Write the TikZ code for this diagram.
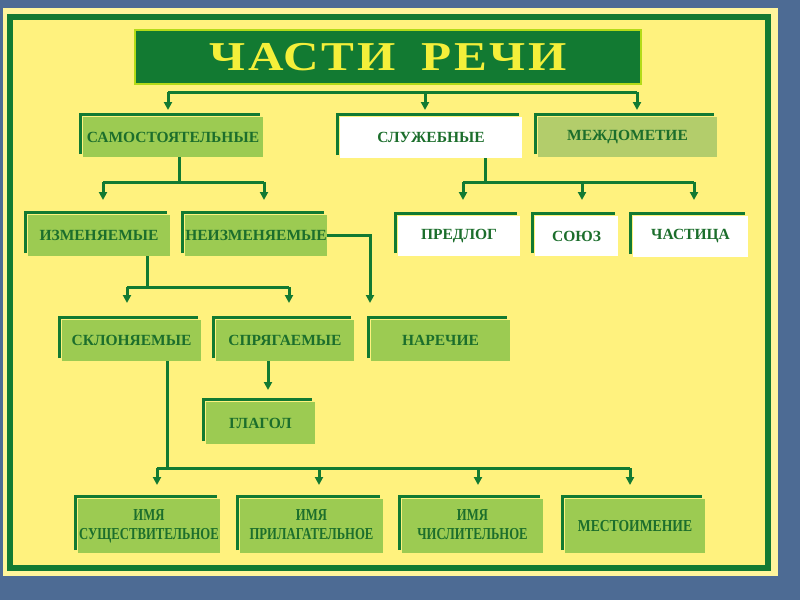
\documentclass[tikz,border=0pt]{standalone}
\usepackage{fontspec}
\setmainfont{Liberation Serif}
\usetikzlibrary{arrows.meta}
\definecolor{bgblue}{HTML}{4D6B94}
\definecolor{panel}{HTML}{FFF27E}
\definecolor{panelout}{HTML}{FFF59C}
\definecolor{dgreen}{HTML}{127A32}
\definecolor{tgreen}{HTML}{1C6E2C}
\definecolor{lgreen}{HTML}{9CCB52}
\definecolor{ogreen}{HTML}{B3CD6B}
\definecolor{tyellow}{HTML}{F4EF3A}
\tikzset{
  pbox/.style={inner sep=0pt, outer sep=0pt, draw=none, text=tgreen,
    font=\bfseries\fontsize{15.5}{18}\selectfont, align=center},
  lframe/.style={draw=dgreen, line width=3pt},
  conn/.style={draw=dgreen, line width=3pt},
  arr/.style={conn, -{Triangle[width=8pt,length=8pt]}},
}
% name, x1, y1, x2, y2, fill, text
\newcommand{\partbox}[7]{%
  \node[pbox, fill=#6, minimum width={(#4-#2)*1pt}, minimum height={(#5-#3)*1pt}]
    (#1) at ({(#2+#4)/2},{(#3+#5)/2}) {#7};
  \draw[lframe] ([xshift=-2.5pt,yshift=3pt]#1.south west) |- ([xshift=-3pt,yshift=2.5pt]#1.north east);
}
\newcommand{\twoline}[2]{\scalebox{0.82}[1.08]{\begin{tabular}{@{}c@{}}#1\\#2\end{tabular}}}
\begin{document}
\begin{tikzpicture}[x=1pt,y=-1pt]
\useasboundingbox (0,0) rectangle (800,600);
\fill[bgblue] (0,0) rectangle (800,600);
\fill[panelout] (3,8) rectangle (778,576);
\fill[panel] (10,17) rectangle (768,568);
\draw[dgreen, line width=6pt] (10,17) rectangle (768,568);

% title
\node[fill=dgreen, draw=yellow!70!green, line width=1.5pt, inner sep=0pt,
      minimum width=506pt, minimum height=54pt, text=tyellow,
      font=\bfseries\fontsize{41}{46}\selectfont] (title) at (388,57)
      {\scalebox{1.2}[1]{\addfontfeature{LetterSpace=5}ЧАСТИ\hspace{22pt}РЕЧИ}};

% boxes
\partbox{sam}{83}{117}{263}{157}{lgreen}{САМОСТОЯТЕЛЬНЫЕ}
\partbox{sluzh}{340}{117}{522}{158}{white}{СЛУЖЕБНЫЕ}
\partbox{mezh}{538}{117}{717}{157}{ogreen}{МЕЖДОМЕТИЕ}
\partbox{izm}{28}{215}{170}{256}{lgreen}{ИЗМЕНЯЕМЫЕ}
\partbox{neizm}{185}{215}{327}{256}{lgreen}{НЕИЗМЕНЯЕМЫЕ}
\partbox{predlog}{398}{216}{520}{256}{white}{ПРЕДЛОГ}
\partbox{soyuz}{535}{216}{618}{256}{white}{СОЮЗ}
\partbox{chast}{633}{216}{748}{257}{white}{ЧАСТИЦА}
\partbox{sklon}{62}{320}{201}{361}{lgreen}{СКЛОНЯЕМЫЕ}
\partbox{spryag}{216}{320}{354}{361}{lgreen}{СПРЯГАЕМЫЕ}
\partbox{narech}{371}{320}{510}{361}{lgreen}{НАРЕЧИЕ}
\partbox{glagol}{206}{402}{315}{444}{lgreen}{ГЛАГОЛ}
\partbox{sushch}{78}{499}{220}{553}{lgreen}{\twoline{ИМЯ}{СУЩЕСТВИТЕЛЬНОЕ}}
\partbox{prilag}{240}{499}{383}{553}{lgreen}{\twoline{ИМЯ}{ПРИЛАГАТЕЛЬНОЕ}}
\partbox{chisl}{402}{499}{543}{553}{lgreen}{\twoline{ИМЯ}{ЧИСЛИТЕЛЬНОЕ}}
\partbox{mest}{565}{499}{705}{553}{lgreen}{\scalebox{0.88}[1.08]{МЕСТОИМЕНИЕ}}

% connectors: title
\coordinate (tb1) at (168,92);
\coordinate (tb2) at (425,92);
\coordinate (tb3) at (637,92);
\draw[conn] (tb1) -- (tb3);
\draw[arr] (tb1) -- (168,110);
\draw[arr] (tb2) -- (425,110);
\draw[arr] (tb3) -- (637,110);

% sam -> izm, neizm
\coordinate (sj) at (179,182);
\draw[conn] (sam.south -| sj) -- (sj);
\draw[conn] (103,182) -- (264,182);
\draw[arr] (103,182) -- (103,200);
\draw[arr] (264,182) -- (264,200);

% sluzh -> predlog, soyuz, chast
\coordinate (lj) at (485,182);
\draw[conn] (sluzh.south -| lj) -- (lj);
\draw[conn] (463,182) -- (694,182);
\draw[arr] (463,182) -- (463,200);
\draw[arr] (582,182) -- (582,200);
\draw[arr] (694,182) -- (694,200);

% neizm -> narech
\draw[arr] (neizm.east) -| (370,303);

% izm -> sklon, spryag
\coordinate (ij) at (147,287);
\draw[conn] (izm.south -| ij) -- (ij);
\draw[conn] (127,287) -- (289,287);
\draw[arr] (127,287) -- (127,303);
\draw[arr] (289,287) -- (289,303);

% spryag -> glagol
\coordinate (gj) at (268,390);
\draw[arr] (spryag.south -| gj) -- (gj);

% sklon -> names
\coordinate (kj) at (167,468);
\draw[conn] (sklon.south -| kj) -- (kj);
\draw[conn] (157,468) -- (630,468);
\draw[arr] (157,468) -- (157,485);
\draw[arr] (319,468) -- (319,485);
\draw[arr] (478,468) -- (478,485);
\draw[arr] (630,468) -- (630,485);
\end{tikzpicture}
\end{document}
